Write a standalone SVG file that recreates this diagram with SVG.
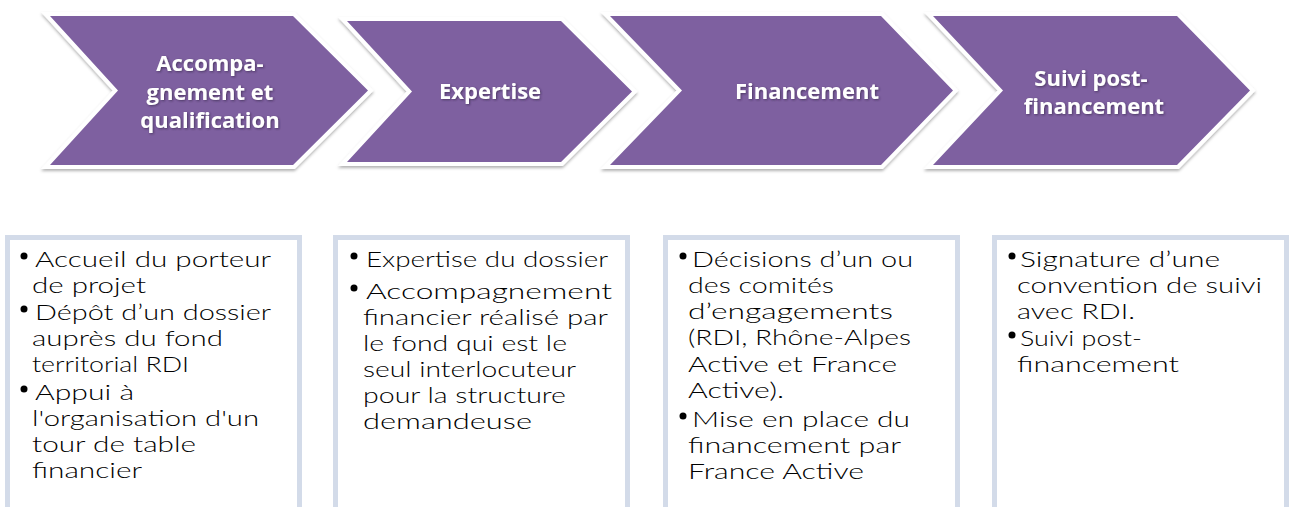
<svg xmlns="http://www.w3.org/2000/svg" width="1289" height="507" viewBox="0 0 1289 507">
<style>
.chev-out{fill:#ffffff;stroke:#ffffff;stroke-width:8;stroke-linejoin:miter;filter:url(#shadow)}
.chev{fill:#7e60a0}
.head{font-family:"Open Sans","Liberation Sans",sans-serif;font-weight:bold;font-size:22px;fill:#ffffff;text-anchor:middle;filter:url(#tshadow)}
.box{fill:#ffffff;stroke:#d3dbe9;stroke-width:5}
.t{font-family:Lato,"Liberation Sans",sans-serif;font-weight:300;font-size:21.5px;fill:#000000}
.b{fill:#000000}
</style>
<defs>
<filter id="shadow" x="-10%" y="-10%" width="120%" height="130%">
<feDropShadow dx="0" dy="2" stdDeviation="1.5" flood-color="#000000" flood-opacity="0.3"/>
</filter>
<filter id="tshadow" x="-10%" y="-20%" width="120%" height="150%">
<feDropShadow dx="1" dy="1" stdDeviation="0.8" flood-color="#2a1a3a" flood-opacity="0.6"/>
</filter>
</defs>
<rect x="0" y="0" width="1289" height="507" fill="#ffffff"/>

<g id="step1">
<polygon class="chev-out" points="50,16 293,16 368,90.5 293,165 50,165 118,90.5"/>
<polygon class="chev" points="50,16 293,16 368,90.5 293,165 50,165 118,90.5"/>
<text class="head" x="210" y="71">Accompa-</text>
<text class="head" x="210" y="99.5">gnement et</text>
<text class="head" x="210" y="128">qualification</text>
</g>
<g id="step2">
<polygon class="chev-out" points="347,21 561,21 632,91.5 561,162 347,162 412,91.5"/>
<polygon class="chev" points="347,21 561,21 632,91.5 561,162 347,162 412,91.5"/>
<text class="head" x="490" y="99">Expertise</text>
</g>
<g id="step3">
<polygon class="chev-out" points="610,16 881,16 953,90.5 881,165 610,165 682,90.5"/>
<polygon class="chev" points="610,16 881,16 953,90.5 881,165 610,165 682,90.5"/>
<text class="head" x="807" y="99">Financement</text>
</g>
<g id="step4">
<polygon class="chev-out" points="933,16 1177,16 1250,90.5 1177,165 933,165 1003,90.5"/>
<polygon class="chev" points="933,16 1177,16 1250,90.5 1177,165 933,165 1003,90.5"/>
<text class="head" x="1091" y="86">Suivi post-</text>
<text class="head" x="1094" y="114">financement</text>
</g>

<g id="box1">
<rect class="box" x="7.5" y="237.5" width="292" height="300"/>
<circle class="b" cx="24" cy="256" r="3.5"/>
<circle class="b" cx="24" cy="309" r="3.5"/>
<circle class="b" cx="24" cy="389" r="3.5"/>
<text class="t" x="35" y="267" textLength="236" lengthAdjust="spacingAndGlyphs">Accueil du porteur</text>
<text class="t" x="32" y="293" textLength="114" lengthAdjust="spacingAndGlyphs">de projet</text>
<text class="t" x="35" y="320" textLength="236" lengthAdjust="spacingAndGlyphs">Dépôt d’un dossier</text>
<text class="t" x="32" y="346" textLength="191" lengthAdjust="spacingAndGlyphs">auprès du fond</text>
<text class="t" x="32" y="372" textLength="157" lengthAdjust="spacingAndGlyphs">territorial RDI</text>
<text class="t" x="35" y="400" textLength="99" lengthAdjust="spacingAndGlyphs">Appui à</text>
<text class="t" x="32" y="426" textLength="227" lengthAdjust="spacingAndGlyphs">l'organisation d'un</text>
<text class="t" x="32" y="452" textLength="164" lengthAdjust="spacingAndGlyphs">tour de table</text>
<text class="t" x="32" y="478" textLength="110" lengthAdjust="spacingAndGlyphs">financier</text>
</g>

<g id="box2">
<rect class="box" x="335.5" y="237.5" width="292" height="300"/>
<circle class="b" cx="354" cy="256" r="3.5"/>
<circle class="b" cx="354" cy="288" r="3.5"/>
<text class="t" x="366" y="267" textLength="242" lengthAdjust="spacingAndGlyphs">Expertise du dossier</text>
<text class="t" x="366" y="299" textLength="246" lengthAdjust="spacingAndGlyphs">Accompagnement</text>
<text class="t" x="363" y="325" textLength="245" lengthAdjust="spacingAndGlyphs">financier réalisé par</text>
<text class="t" x="363" y="351" textLength="204" lengthAdjust="spacingAndGlyphs">le fond qui est le</text>
<text class="t" x="363" y="377" textLength="213" lengthAdjust="spacingAndGlyphs">seul interlocuteur</text>
<text class="t" x="363" y="403" textLength="203" lengthAdjust="spacingAndGlyphs">pour la structure</text>
<text class="t" x="363" y="429" textLength="169" lengthAdjust="spacingAndGlyphs">demandeuse</text>
</g>

<g id="box3">
<rect class="box" x="665.5" y="237.5" width="292" height="300"/>
<circle class="b" cx="683" cy="256" r="3.5"/>
<circle class="b" cx="683" cy="416" r="3.5"/>
<text class="t" x="692" y="267" textLength="221" lengthAdjust="spacingAndGlyphs">Décisions d’un ou</text>
<text class="t" x="688" y="293" textLength="146" lengthAdjust="spacingAndGlyphs">des comités</text>
<text class="t" x="688" y="319" textLength="205" lengthAdjust="spacingAndGlyphs">d’engagements</text>
<text class="t" x="688" y="345" textLength="223" lengthAdjust="spacingAndGlyphs">(RDI, Rhône-Alpes</text>
<text class="t" x="688" y="372" textLength="209" lengthAdjust="spacingAndGlyphs">Active et France</text>
<text class="t" x="688" y="398" textLength="96" lengthAdjust="spacingAndGlyphs">Active).</text>
<text class="t" x="692" y="427" textLength="218" lengthAdjust="spacingAndGlyphs">Mise en place du</text>
<text class="t" x="688" y="453" textLength="213" lengthAdjust="spacingAndGlyphs">financement par</text>
<text class="t" x="688" y="479" textLength="176" lengthAdjust="spacingAndGlyphs">France Active</text>
</g>

<g id="box4">
<rect class="box" x="994.5" y="237.5" width="292" height="300"/>
<circle class="b" cx="1012" cy="256" r="3.5"/>
<circle class="b" cx="1012" cy="335" r="3.5"/>
<text class="t" x="1020" y="267" textLength="200" lengthAdjust="spacingAndGlyphs">Signature d’une</text>
<text class="t" x="1017" y="293" textLength="245" lengthAdjust="spacingAndGlyphs">convention de suivi</text>
<text class="t" x="1017" y="319" textLength="118" lengthAdjust="spacingAndGlyphs">avec RDI.</text>
<text class="t" x="1020" y="346" textLength="122" lengthAdjust="spacingAndGlyphs">Suivi post-</text>
<text class="t" x="1017" y="372" textLength="162" lengthAdjust="spacingAndGlyphs">financement</text>
</g>

<g id="connectors"></g>
</svg>
